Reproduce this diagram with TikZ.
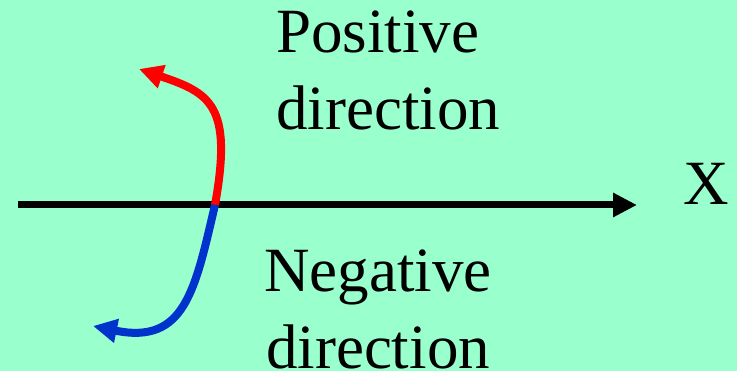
\documentclass[tikz,border=0pt]{standalone}
\usepackage{fontspec}
\setmainfont{Liberation Serif}
\usepackage{tikz}
\usetikzlibrary{arrows.meta}
\definecolor{mintbg}{RGB}{153,255,204}
\definecolor{negblue}{RGB}{0,51,204}
\tikzset{>={Triangle[length=24pt,width=23pt]}}
\tikzset{font=\fontsize{63}{77}\selectfont}
\tikzset{dirlabel/.style={inner sep=0pt}}

\begin{document}
\begin{tikzpicture}[x=1pt,y=-1pt]
  \fill[mintbg] (0,0) rectangle (737,371);
  \useasboundingbox (0,0) rectangle (737,371);
  % the axis
  \coordinate (xstart) at (18,205);
  \coordinate (xend) at (637,205);
  \coordinate (cross) at (215,205);
  \coordinate (posend) at (139,69);
  \coordinate (negend) at (93,326);
  \draw[line width=7pt, ->] (xstart) -- (xend);
  \node[dirlabel, anchor=base west] (xlabel) at (683,205) {X};
  % the two directions
  \draw[red, line width=8pt, ->] (cross) .. controls (233,105) and (210,93) .. (posend);
  \draw[negblue, line width=8pt, ->] (cross) .. controls (195,290) and (185,345) .. (negend);
  \node[dirlabel, anchor=base west, align=left] (poslabel) at (276,130) {Positive\\direction};
  \node[dirlabel, anchor=base, align=center] (neglabel) at (378,369) {Negative\\direction};
\end{tikzpicture}
\end{document}
